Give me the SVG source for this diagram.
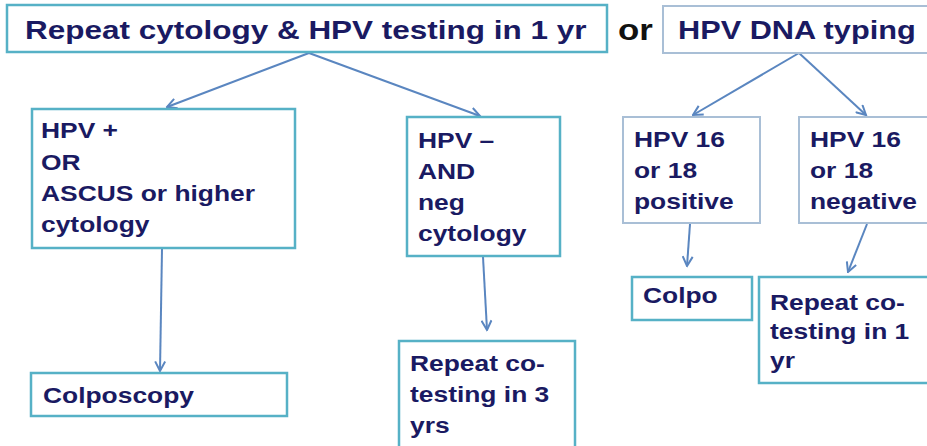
<svg xmlns="http://www.w3.org/2000/svg" width="927" height="446" viewBox="0 0 927 446">
<style>
  .bg { fill: #ffffff; }
  .box { fill: #ffffff; stroke: #56b1c6; stroke-width: 2.5; }
  .boxl { fill: #ffffff; stroke: #a9bfd6; stroke-width: 2; }
  .t { font-family: "Liberation Sans", Arial, sans-serif; font-weight: bold; fill: #1a1a62; }
  .s { font-size: 22px; }
  .big { font-size: 25.6px; }
  .or { font-family: "Liberation Sans", Arial, sans-serif; font-weight: bold; font-size: 29px; fill: #111111; }
  .conn { fill: none; stroke: #5a86c0; stroke-width: 2; marker-end: url(#arr); }
</style>
<defs>
  <marker id="arr" viewBox="0 0 12 12" refX="10.5" refY="6" markerWidth="6" markerHeight="6" orient="auto" markerUnits="strokeWidth">
    <path d="M1,1 L10.5,6 L1,11" fill="none" stroke="#5a86c0" stroke-width="2"/>
  </marker>
</defs>
<rect class="bg" x="0" y="0" width="927" height="446"/>

<g id="connectors">
  <line class="conn" x1="309" y1="53" x2="167" y2="107"/>
  <line class="conn" x1="309" y1="53" x2="480" y2="116"/>
  <line class="conn" x1="799" y1="53" x2="693" y2="115"/>
  <line class="conn" x1="799" y1="53" x2="866" y2="115"/>
  <line class="conn" x1="162" y1="249" x2="160" y2="371"/>
  <line class="conn" x1="483" y1="257" x2="487" y2="330"/>
  <line class="conn" x1="690" y1="224" x2="687" y2="266"/>
  <line class="conn" x1="867" y1="224" x2="848" y2="272"/>
</g>

<g id="repeat-cotest-1yr-top">
  <rect class="box" x="7" y="5" width="600" height="47"/>
  <text class="t big" transform="translate(25,39) scale(1.23,1)">Repeat cytology &amp; HPV testing in 1 yr</text>
</g>

<g id="or-label">
  <text class="or" transform="translate(618,40) scale(1.2,1)">or</text>
</g>

<g id="hpv-dna-typing">
  <rect class="boxl" x="663" y="6" width="290" height="47"/>
  <text class="t big" transform="translate(678,39) scale(1.2,1)">HPV DNA typing</text>
</g>

<g id="hpv-pos-or-ascus">
  <rect class="box" x="32" y="109" width="263" height="139"/>
  <text class="t s" transform="translate(41,0) scale(1.2,1)">
    <tspan x="0" y="138">HPV +</tspan>
    <tspan x="0" y="170">OR</tspan>
    <tspan x="0" y="201">ASCUS or higher</tspan>
    <tspan x="0" y="232">cytology</tspan>
  </text>
</g>

<g id="hpv-neg-and-neg-cytology">
  <rect class="box" x="407" y="117" width="153" height="139"/>
  <text class="t s" transform="translate(418,0) scale(1.2,1)">
    <tspan x="0" y="148">HPV –</tspan>
    <tspan x="0" y="179">AND</tspan>
    <tspan x="0" y="210">neg</tspan>
    <tspan x="0" y="241">cytology</tspan>
  </text>
</g>

<g id="colposcopy">
  <rect class="box" x="31" y="373" width="256" height="43"/>
  <text class="t s" transform="translate(43,403) scale(1.2,1)">Colposcopy</text>
</g>

<g id="repeat-cotest-3yrs">
  <rect class="box" x="399" y="341" width="176" height="120"/>
  <text class="t s" transform="translate(410,0) scale(1.2,1)">
    <tspan x="0" y="371">Repeat co-</tspan>
    <tspan x="0" y="402">testing in 3</tspan>
    <tspan x="0" y="433">yrs</tspan>
  </text>
</g>

<g id="hpv1618-positive">
  <rect class="boxl" x="623" y="117" width="137" height="106"/>
  <text class="t s" transform="translate(634,0) scale(1.2,1)">
    <tspan x="0" y="147">HPV 16</tspan>
    <tspan x="0" y="178">or 18</tspan>
    <tspan x="0" y="209">positive</tspan>
  </text>
</g>

<g id="hpv1618-negative">
  <rect class="boxl" x="799" y="117" width="150" height="106"/>
  <text class="t s" transform="translate(810,0) scale(1.2,1)">
    <tspan x="0" y="147">HPV 16</tspan>
    <tspan x="0" y="178">or 18</tspan>
    <tspan x="0" y="209">negative</tspan>
  </text>
</g>

<g id="colpo">
  <rect class="box" x="632" y="277" width="120" height="43"/>
  <text class="t s" transform="translate(643,303) scale(1.2,1)">Colpo</text>
</g>

<g id="repeat-cotest-1yr">
  <rect class="box" x="759" y="277" width="190" height="106"/>
  <text class="t s" transform="translate(770,0) scale(1.2,1)">
    <tspan x="0" y="310">Repeat co-</tspan>
    <tspan x="0" y="339">testing in 1</tspan>
    <tspan x="0" y="368">yr</tspan>
  </text>
</g>
</svg>
